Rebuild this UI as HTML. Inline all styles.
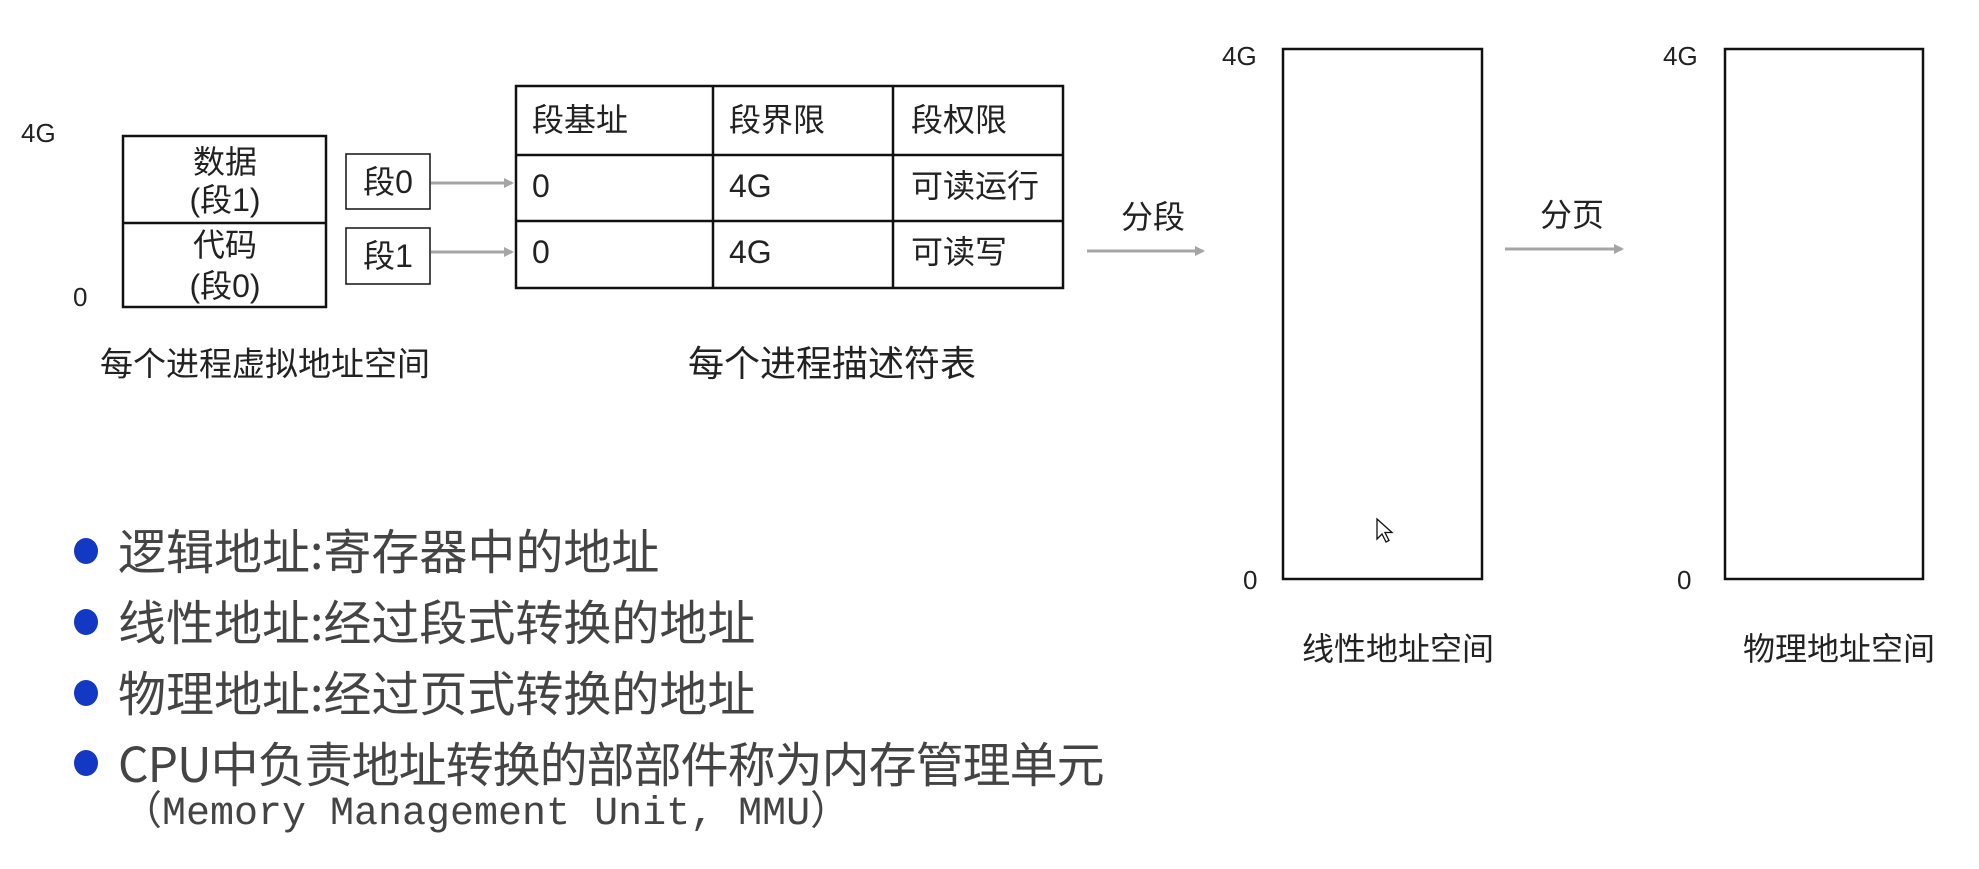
<!DOCTYPE html>
<html><head><meta charset="utf-8"><style>
body{margin:0;width:1979px;height:869px;background:#fff;position:relative;overflow:hidden;font-family:"Liberation Sans","Noto Sans CJK SC",sans-serif;color:#222}
.a{position:absolute;white-space:nowrap;line-height:1}
.b{position:absolute;border:2.5px solid #111;box-sizing:border-box}
.c{font-size:32px;transform:translateY(-50%)}
.l{font-family:"Noto Sans CJK SC","WenQuanYi Zen Hei",sans-serif;font-size:48px;color:#444}
.dot{position:absolute;width:24px;height:26px;border-radius:50%;background:#1238c4}
</style></head><body>
<svg width="1979" height="869" style="position:absolute;left:0;top:0">
<defs><marker id="ar" markerWidth="10" markerHeight="10" refX="8" refY="5" orient="auto" markerUnits="userSpaceOnUse"><path d="M0,0 L10,5 L0,10Z" fill="#a5a5a5"/></marker></defs>
<g stroke="#a5a5a5" stroke-width="3" marker-end="url(#ar)">
<line x1="431" y1="183" x2="512" y2="183"/>
<line x1="431" y1="252" x2="512" y2="252"/>
<line x1="1087" y1="251" x2="1203" y2="251"/>
<line x1="1505" y1="249" x2="1622" y2="249"/>
</g>
<g stroke="#111" stroke-width="2.5" fill="none">
<rect x="123" y="136" width="203" height="171"/>
<line x1="123" y1="223" x2="326" y2="223"/>
<rect x="346" y="154" width="84" height="55" stroke-width="1.5"/>
<rect x="346" y="228" width="84" height="56" stroke-width="1.5"/>
<rect x="516" y="86" width="547" height="202"/>
<line x1="713" y1="86" x2="713" y2="288"/>
<line x1="893" y1="86" x2="893" y2="288"/>
<line x1="516" y1="155" x2="1063" y2="155"/>
<line x1="516" y1="221" x2="1063" y2="221"/>
<rect x="1283" y="49" width="199" height="530"/>
<rect x="1725" y="49" width="198" height="530"/>
</g>
<path d="M1377,519 l0,20 l5,-5 l4,8 l3,-1.5 l-4,-8 l7,0z" fill="#fff" stroke="#111" stroke-width="1.3"/>
</svg>
<div class="a c" style="left:21px;top:133px;font-size:26px">4G</div>
<div class="a c" style="left:73px;top:297px;font-size:26px">0</div>
<div class="a c" style="left:225px;top:162px;transform:translate(-50%,-50%)">数据</div>
<div class="a c" style="left:225px;top:200px;transform:translate(-50%,-50%)">(段1)</div>
<div class="a c" style="left:225px;top:245px;transform:translate(-50%,-50%)">代码</div>
<div class="a c" style="left:225px;top:286px;transform:translate(-50%,-50%)">(段0)</div>
<div class="a c" style="left:388px;top:182px;transform:translate(-50%,-50%)">段0</div>
<div class="a c" style="left:388px;top:256px;transform:translate(-50%,-50%)">段1</div>
<div class="a c" style="left:532px;top:120px">段基址</div>
<div class="a c" style="left:729px;top:120px">段界限</div>
<div class="a c" style="left:911px;top:120px">段权限</div>
<div class="a c" style="left:532px;top:186px">0</div>
<div class="a c" style="left:729px;top:186px">4G</div>
<div class="a c" style="left:911px;top:186px">可读运行</div>
<div class="a c" style="left:532px;top:252px">0</div>
<div class="a c" style="left:729px;top:252px">4G</div>
<div class="a c" style="left:911px;top:252px">可读写</div>
<div class="a c" style="left:100px;top:364px;font-size:33px">每个进程虚拟地址空间</div>
<div class="a c" style="left:688px;top:364px;font-size:36px">每个进程描述符表</div>
<div class="a c" style="left:1121px;top:217px">分段</div>
<div class="a c" style="left:1540px;top:215px">分页</div>
<div class="a c" style="left:1222px;top:56px;font-size:26px">4G</div>
<div class="a c" style="left:1243px;top:580px;font-size:26px">0</div>
<div class="a c" style="left:1663px;top:56px;font-size:26px">4G</div>
<div class="a c" style="left:1677px;top:580px;font-size:26px">0</div>
<div class="a c" style="left:1302px;top:649px">线性地址空间</div>
<div class="a c" style="left:1743px;top:649px">物理地址空间</div>
<div class="dot" style="left:74px;top:538px"></div>
<div class="dot" style="left:74px;top:609px"></div>
<div class="dot" style="left:74px;top:680px"></div>
<div class="dot" style="left:74px;top:750px"></div>
<div class="a l" style="left:118px;top:524px">逻辑地址:寄存器中的地址</div>
<div class="a l" style="left:118px;top:595px">线性地址:经过段式转换的地址</div>
<div class="a l" style="left:118px;top:666px">物理地址:经过页式转换的地址</div>
<div class="a l" style="left:118px;top:737px;letter-spacing:-1px">CPU中负责地址转换的部部件称为内存管理单元</div>
<div class="a l" style="left:122px;top:795px;font-family:'Liberation Mono','Noto Sans CJK SC',monospace;font-size:40px">（Memory Management Unit, MMU）</div>
</body></html>
